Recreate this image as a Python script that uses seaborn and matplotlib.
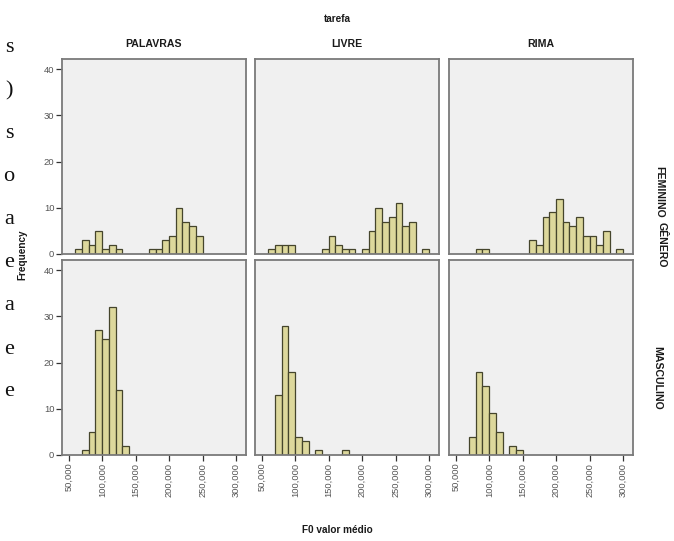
import matplotlib
matplotlib.use("Agg")
import matplotlib.pyplot as plt
import seaborn as sns
import numpy as np
import pandas as pd

# ---------------- data ----------------
tasks = ["PALAVRAS", "LIVRE", "RIMA"]
genders = ["FEMININO", "MASCULINO"]

# left edges of the 10 Hz bins (F0 valor médio)
bin_starts = [60, 70, 80, 90, 100, 110, 120, 130, 140, 150, 160, 170,
              180, 190, 200, 210, 220, 230, 240, 250, 260, 270, 280, 290]
bin_width = 10

fem_palavras = [1, 3, 2, 5, 1, 2, 1, 0, 0, 0, 0, 1, 1, 3, 4, 10, 7, 6, 4, 0, 0, 0, 0, 0]
fem_livre    = [1, 2, 2, 2, 0, 0, 0, 0, 1, 4, 2, 1, 1, 0, 1, 5, 10, 7, 8, 11, 6, 7, 0, 1]
fem_rima     = [0, 0, 1, 1, 0, 0, 0, 0, 0, 0, 3, 2, 8, 9, 12, 7, 6, 8, 4, 4, 2, 5, 0, 1]
masc_palavras = [0, 1, 5, 27, 25, 32, 14, 2, 0, 0, 0, 0, 0, 0, 0, 0, 0, 0, 0, 0, 0, 0, 0, 0]
masc_livre    = [0, 13, 28, 18, 4, 3, 0, 1, 0, 0, 0, 1, 0, 0, 0, 0, 0, 0, 0, 0, 0, 0, 0, 0]
masc_rima     = [0, 4, 18, 15, 9, 5, 0, 2, 1, 0, 0, 0, 0, 0, 0, 0, 0, 0, 0, 0, 0, 0, 0, 0]

y_ticks = [0, 10, 20, 30, 40]
x_ticks = [50, 100, 150, 200, 250, 300]
x_ticklabels = ["50,000", "100,000", "150,000", "200,000", "250,000", "300,000"]

margin_letters = ["s", ")", "s", "o", "a", "e", "a", "e", "e"]

counts = {
    ("FEMININO", "PALAVRAS"): fem_palavras,
    ("FEMININO", "LIVRE"): fem_livre,
    ("FEMININO", "RIMA"): fem_rima,
    ("MASCULINO", "PALAVRAS"): masc_palavras,
    ("MASCULINO", "LIVRE"): masc_livre,
    ("MASCULINO", "RIMA"): masc_rima,
}

rows = []
for (g, t), c in counts.items():
    for b, n in zip(bin_starts, c):
        rows.append({"genero": g, "tarefa": t, "f0": b + bin_width / 2, "n": n})
df = pd.DataFrame(rows)
edges = bin_starts + [bin_starts[-1] + bin_width]

# ---------------- style ----------------
sns.set_theme(style="white")
plt.rcParams["font.family"] = ["Liberation Sans", "DejaVu Sans"]

W, H = 674, 541
fig = plt.figure(figsize=(W / 100, H / 100), dpi=100)
fig.patch.set_facecolor("white")

def fx(x):
    return x / W

def fy(y):
    return 1 - y / H

col_left = [62, 255, 449]
col_w = 184
row_top = [59, 260]
row_h = 195

bar_face = "#DDD89C"
bar_edge = "#45452C"
panel_bg = "#F0F0F0"
frame_col = "#7A7A7A"
tick_col = "#555555"

for ri, g in enumerate(genders):
    for ci, t in enumerate(tasks):
        ax = fig.add_axes([fx(col_left[ci]), fy(row_top[ri] + row_h),
                           col_w / W, row_h / H])
        sub = df[(df.genero == g) & (df.tarefa == t)]
        sns.histplot(data=sub, x="f0", weights="n", bins=edges, ax=ax,
                     color=bar_face, edgecolor=bar_edge, linewidth=0.9,
                     alpha=1.0)
        for p in list(ax.patches):
            if p.get_height() == 0:
                p.remove()
        ax.set_facecolor(panel_bg)
        ax.set_xlim(40, 315)
        ax.set_ylim(0, 42.2)
        ax.set_xlabel("")
        ax.set_ylabel("")
        for s in ax.spines.values():
            s.set_color(frame_col)
            s.set_linewidth(1.3)
        ax.tick_params(axis="both", direction="out", length=4, width=0.9,
                       color="#333333", labelsize=6.8, labelcolor=tick_col,
                       pad=1.5)
        ax.set_yticks(y_ticks)
        ax.set_xticks(x_ticks)
        if ci == 0:
            ax.set_yticklabels([str(v) for v in y_ticks])
            ax.tick_params(axis="y", left=True)
        else:
            ax.tick_params(axis="y", left=False, labelleft=False)
        if ri == 1:
            ax.set_xticklabels(x_ticklabels, rotation=90, fontsize=6.7)
            ax.tick_params(axis="x", bottom=True)
        else:
            ax.tick_params(axis="x", bottom=False, labelbottom=False)

# titles
bold = dict(fontweight="bold", color="#1A1A1A")
fig.text(fx(337), fy(19), "tarefa", ha="center", va="center", fontsize=7.2, **bold)
for ci, t in enumerate(tasks):
    fig.text(fx(col_left[ci] + col_w / 2), fy(44), t, ha="center", va="center",
             fontsize=7.6, **bold)

fig.text(fx(22), fy(255), "Frequency", ha="center", va="center", rotation=90,
         fontsize=7.2, **bold)
fig.text(fx(337), fy(530), "F0 valor médio", ha="center", va="center",
         fontsize=7.2, **bold)

# row labels (the row-variable title overlaps the first row label, as in the source)
fig.text(fx(659), fy(192), genders[0], ha="center", va="center", rotation=-90,
         fontsize=7.6, **bold)
fig.text(fx(662), fy(245), "GÊNERO", ha="center", va="center", rotation=-90,
         fontsize=7.6, **bold)
fig.text(fx(657), fy(378), genders[1], ha="center", va="center", rotation=-90,
         fontsize=7.6, **bold)

# stray letters from surrounding page text
for i, letter in enumerate(margin_letters):
    fig.text(fx(9), fy(48 + 43 * i), letter, ha="center", va="center",
             fontsize=16, family=["Liberation Serif", "DejaVu Serif"],
             color="#111111")

fig.savefig("out.png", dpi=100, facecolor="white")
